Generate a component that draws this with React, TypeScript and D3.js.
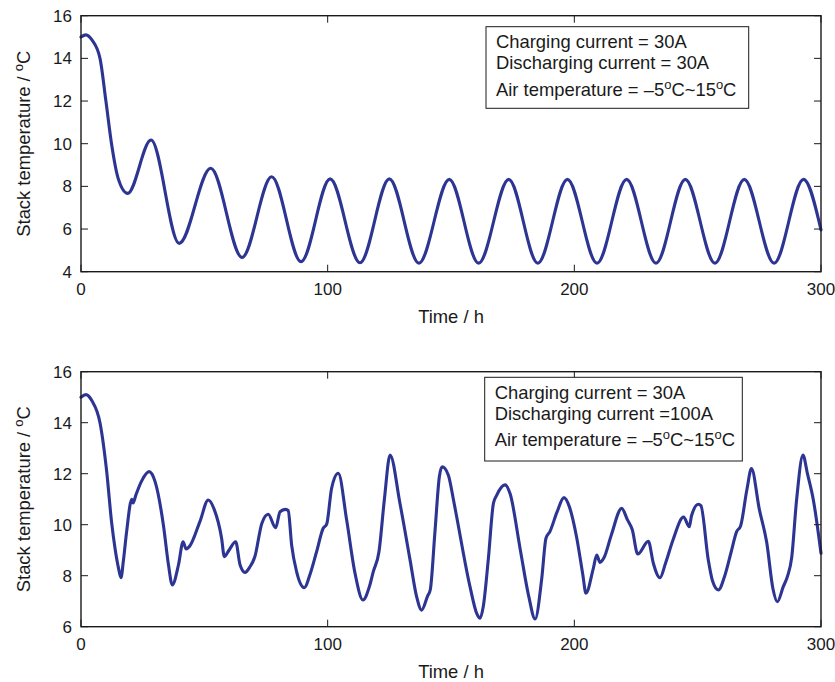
import React from 'react';
import * as d3 from 'd3';

// Axis ticks
const TIME_TICKS = [0, 100, 200, 300];
const TEMP_TICKS_A = [4, 6, 8, 10, 12, 14, 16];
const TEMP_TICKS_B = [6, 8, 10, 12, 14, 16];

// Stack temperature, charge 30 A / discharge 30 A
const hoursA = [
  0, 2, 4.5, 7.7, 10.1, 12.5, 15, 18.9, 28.4, 39.8, 52.6, 65.3, 77.3, 89.2, 101, 113.1,
  125, 137, 149.3, 161.2, 173.4, 185.2, 197.2, 209.2, 221.2, 233.1, 245, 257, 268.9, 281,
  292.9, 300,
];
const tempsA = [
  15.0, 15.1, 14.85, 14.0, 12.0, 9.9, 8.4, 7.67, 10.17, 5.33, 8.85, 4.67, 8.45, 4.47, 8.35, 4.42,
  8.35, 4.4, 8.33, 4.4, 8.33, 4.4, 8.33, 4.4, 8.33, 4.4, 8.33, 4.4, 8.33, 4.4,
  8.33, 5.96,
];

// Stack temperature, charge 30 A / discharge 100 A
const hoursB = [
  0, 2, 4.5, 7.7, 10.4, 12.4, 13.8, 15.2, 16.2, 17.2, 18.5, 20.6, 21.1, 22.2, 24.5, 27.6,
  30, 33.4, 35.5, 37, 39.5, 41.4, 42.6, 44, 48.2, 51.6, 54, 57, 58.1, 60, 62.7, 64.5,
  66.5, 68.5, 70.5, 73.3, 75.9, 78.9, 80.7, 83, 84, 85.4, 87.4, 90.5, 93, 95.5, 98.2, 99.6,
  101.6, 104.3, 107.7, 111.1, 114.3, 117, 118.5, 120.8, 123, 125.3, 129.3, 133.4, 136, 138.1,
  140.5, 141.6, 143.5, 145.3, 146.4, 148.9, 150.9, 152.3, 157.7, 160.5, 161.8, 163.1, 165.1,
  167.2, 168.5, 171.9, 174, 178, 181.5, 184.1, 186.8, 188.5, 190.1, 193, 195.8, 198, 201,
  203.5, 204.7, 207.7, 209.1, 210.4, 212, 215, 219.2, 221.5, 223.5, 225.7, 230, 232, 234.7,
  237, 240, 244.3, 246.6, 247.5, 250.3, 251.3, 254.3, 256, 258.4, 261, 263.5, 265.8, 267.4,
  270, 271.8, 275, 278, 280.5, 282.3, 284.7, 286.5, 288.1, 290.1, 292.7, 294.5, 296.9, 300,
];
const tempsB = [
  15.0, 15.1, 14.85, 14.0, 12.1, 10.1, 9.07, 8.3, 7.92, 8.6, 9.73, 11.0, 10.85, 11.15, 11.7, 12.08,
  11.7, 9.99, 8.4, 7.64, 8.42, 9.33, 9.05, 9.15, 10.12, 10.97, 10.6, 9.47, 8.75, 9.0, 9.33, 8.42,
  8.13, 8.35, 8.75, 10.05, 10.41, 9.88, 10.51, 10.6, 10.55, 9.2, 8.16, 7.53, 8.1, 8.94, 9.86, 10.02,
  11.43, 12.02, 10.18, 8.09, 7.05, 7.6, 8.16, 8.94, 11.0, 12.73, 10.84, 8.62, 7.2, 6.65,
  7.2, 7.45, 9.73, 11.9, 12.27, 11.95, 11.03, 10.31, 7.57, 6.5, 6.33, 6.8, 8.62,
  10.84, 11.15, 11.56, 11.2, 9.07, 7.2, 6.3, 7.9, 9.47, 9.73, 10.5, 11.06, 10.7, 9.47,
  8.0, 7.31, 8.29, 8.81, 8.52, 8.7, 9.6, 10.64, 10.2, 9.8, 8.85, 9.35, 8.5, 7.92,
  8.5, 9.4, 10.3, 9.92, 10.35, 10.8, 10.75, 8.62, 7.8, 7.44, 8.0, 8.9, 9.73, 9.95,
  11.4, 12.2, 10.6, 9.3, 7.5, 6.98, 7.57, 8.0, 8.7, 10.97, 12.73, 12.0, 10.97, 8.88,
];

const LEGEND_A = ['Charging current = 30A', 'Discharging current = 30A'];
const LEGEND_B = ['Charging current = 30A', 'Discharging current =100A'];

const LINE_COLOR = '#2d3593';
const INK = '#1a1a1a';
const FONT = '"Liberation Sans", Arial, Helvetica, sans-serif';
const X_LEFT = 81;
const X_RIGHT = 821;
const TICK = 7;
const TICK_FONT = 17;
const LABEL_FONT = 18.4;

type PanelProps = {
  top: number;
  bottom: number;
  yDomain: [number, number];
  yTicks: number[];
  hours: number[];
  temps: number[];
  legend: string[];
  legendBox: { x: number; y: number; w: number; h: number };
};

// superscript "o" used for the degree sign
function Sup({ children }: { children: string }) {
  return (
    <tspan dy={-7} fontSize={13}>
      {children}
    </tspan>
  );
}

function Panel({ top, bottom, yDomain, yTicks, hours, temps, legend, legendBox }: PanelProps) {
  const x = d3.scaleLinear().domain([0, 300]).range([X_LEFT, X_RIGHT]);
  const y = d3.scaleLinear().domain(yDomain).range([bottom, top]);
  const pts = hours.map((h, i) => [h, temps[i]] as [number, number]);
  const path = d3
    .line<[number, number]>()
    .x((d) => x(d[0]))
    .y((d) => y(d[1]))
    .curve(d3.curveMonotoneX)(pts) as string;

  const lb = legendBox;
  return (
    <g>
      <path d={path} fill="none" stroke={LINE_COLOR} strokeWidth={3.1} strokeLinejoin="round" strokeLinecap="round" />
      {/* frame */}
      <rect x={X_LEFT} y={top} width={X_RIGHT - X_LEFT} height={bottom - top} fill="none" stroke={INK} strokeWidth={1.4} />
      {/* x ticks, bottom and top */}
      {TIME_TICKS.map((t) => (
        <g key={'xt' + t}>
          <line x1={x(t)} x2={x(t)} y1={bottom} y2={bottom - TICK} stroke={INK} strokeWidth={1} />
          <line x1={x(t)} x2={x(t)} y1={top} y2={top + TICK} stroke={INK} strokeWidth={1} />
          <text x={x(t)} y={bottom + 23.3} textAnchor="middle" fontSize={TICK_FONT} fill={INK} fontFamily={FONT}>
            {t}
          </text>
        </g>
      ))}
      {/* y ticks, left and right */}
      {yTicks.map((v) => (
        <g key={'yt' + v}>
          <line x1={X_LEFT} x2={X_LEFT + TICK} y1={y(v)} y2={y(v)} stroke={INK} strokeWidth={1} />
          <line x1={X_RIGHT} x2={X_RIGHT - TICK} y1={y(v)} y2={y(v)} stroke={INK} strokeWidth={1} />
          <text x={72} y={y(v) + 6.1} textAnchor="end" fontSize={TICK_FONT} fill={INK} fontFamily={FONT}>
            {v}
          </text>
        </g>
      ))}
      {/* axis titles */}
      <text x={(X_LEFT + X_RIGHT) / 2} y={bottom + 51.6} textAnchor="middle" fontSize={LABEL_FONT} fill={INK} fontFamily={FONT}>
        Time / h
      </text>
      <text
        transform={`translate(29.5, ${(top + bottom) / 2}) rotate(-90)`}
        textAnchor="middle"
        fontSize={LABEL_FONT}
        fill={INK}
        fontFamily={FONT}
      >
        Stack temperature / <Sup>o</Sup>
        <tspan dy={7}>C</tspan>
      </text>
      {/* legend */}
      <rect x={lb.x} y={lb.y} width={lb.w} height={lb.h} fill="#fff" stroke={INK} strokeWidth={1} />
      <g fontSize={LABEL_FONT} fill={INK} fontFamily={FONT}>
        {legend.map((s, i) => (
          <text key={s} x={lb.x + 10} y={lb.y + 21.6 + i * 20.8}>
            {s}
          </text>
        ))}
        <text x={lb.x + 10} y={lb.y + 69}>
          Air temperature = –5<Sup>o</Sup>
          <tspan dy={7}>C~15</tspan>
          <Sup>o</Sup>
          <tspan dy={7}>C</tspan>
        </text>
      </g>
    </g>
  );
}

export default function App() {
  return (
    <svg
      width={835}
      height={682}
      viewBox="0 0 835 682"
      style={{ position: 'absolute', left: 0, top: 0, background: '#fff' }}
    >
      <rect width={835} height={682} fill="#fff" />
      <Panel
        top={15.7}
        bottom={271.7}
        yDomain={[4, 16]}
        yTicks={TEMP_TICKS_A}
        hours={hoursA}
        temps={tempsA}
        legend={LEGEND_A}
        legendBox={{ x: 486, y: 26.7, w: 262.7, h: 81.6 }}
      />
      <Panel
        top={371.7}
        bottom={626.7}
        yDomain={[6, 16]}
        yTicks={TEMP_TICKS_B}
        hours={hoursB}
        temps={tempsB}
        legend={LEGEND_B}
        legendBox={{ x: 484.7, y: 377.3, w: 257.6, h: 83.7 }}
      />
    </svg>
  );
}
